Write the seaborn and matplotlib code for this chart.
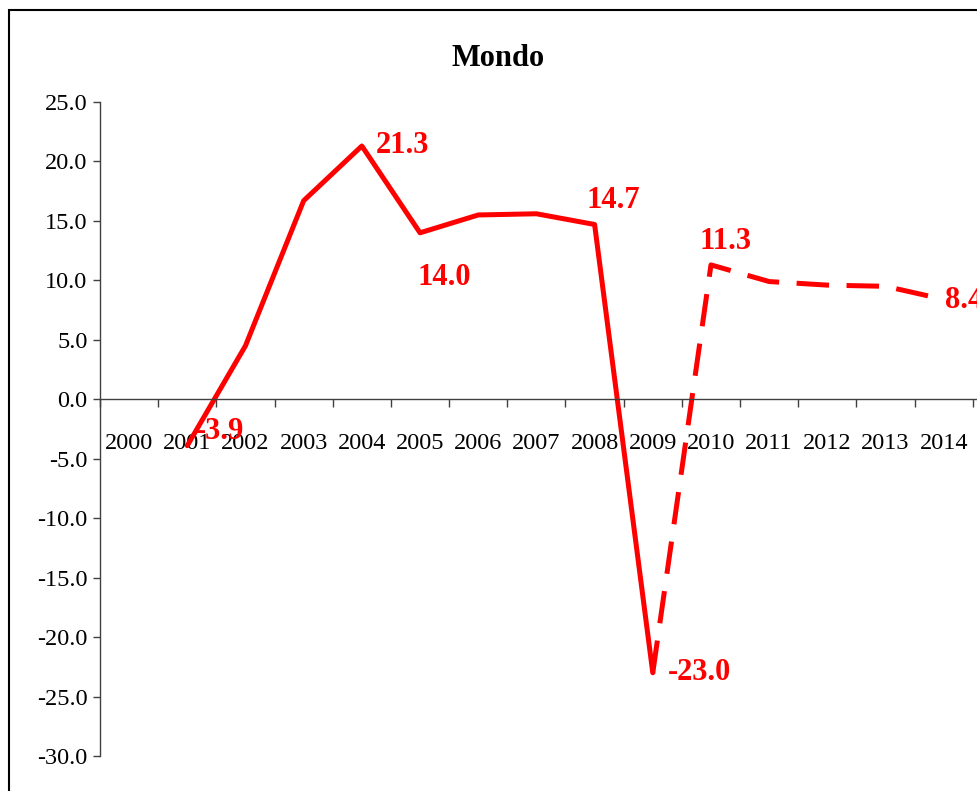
import pandas as pd
import matplotlib
matplotlib.use("Agg")
import matplotlib.pyplot as plt
import seaborn as sns
from matplotlib.patches import Rectangle

# Data
years = [str(y) for y in range(2000, 2015)]
actual_years = [2001, 2002, 2003, 2004, 2005, 2006, 2007, 2008, 2009]
actual_values = [-3.9, 4.5, 16.7, 21.3, 14.0, 15.5, 15.6, 14.7, -23.0]
forecast_years = [2009, 2010, 2011, 2012, 2013, 2014]
forecast_values = [-23.0, 11.3, 9.9, 9.6, 9.5, 8.4]

# Labelled points and where their text sits (pixel offsets)
label_years = [2001, 2004, 2005, 2008, 2009, 2010, 2014]
label_values = [-3.9, 21.3, 14.0, 14.7, -23.0, 11.3, 8.4]
label_offsets = [(9, 14, 'left'), (14, 0, 'left'), (24, -45, 'center'),
                 (19, 24, 'center'), (15, 0, 'left'), (15, 23, 'center'),
                 (1, -1, 'left')]

sns.set_style("white")
plt.rcParams['font.family'] = ['Liberation Serif', 'DejaVu Serif']
plt.rcParams['axes.unicode_minus'] = False
plt.rcParams['text.color'] = 'black'
plt.rcParams['xtick.color'] = 'black'
plt.rcParams['ytick.color'] = 'black'

actual = pd.DataFrame({'pos': [y - 2000 for y in actual_years], 'value': actual_values})
forecast = pd.DataFrame({'pos': [y - 2000 for y in forecast_years], 'value': forecast_values})

fig = plt.figure(figsize=(9.78, 7.91), dpi=100)
# axes extends past the right edge (chart is cropped in the reference)
ax = fig.add_axes([100 / 978, 1 - 756 / 791, 931 / 978, 654 / 791])

red = '#ff0000'
sns.lineplot(data=actual, x='pos', y='value', color=red, linewidth=3.6, ax=ax)
sns.lineplot(data=forecast, x='pos', y='value', color=red, linewidth=3.6, ax=ax)
ax.lines[-1].set_dashes([6.5, 3.5])

for yr, val, (dx, dy, ha) in zip(label_years, label_values, label_offsets):
    ax.annotate(f"{val:.1f}", (yr - 2000, val), xytext=(dx, dy),
                textcoords='offset pixels', ha=ha, va='center',
                color=red, fontsize=22, fontweight='bold')

ax.set_xlim(-0.5, 15.5)
ax.set_ylim(-30, 25)
ax.set_yticks([v * 5.0 for v in range(-6, 6)])
ax.set_yticklabels([f"{v * 5.0:.1f}" for v in range(-6, 6)])
ax.set_xticks(range(len(years)))
ax.set_xticklabels(years)
ax.set_xticks([i - 0.5 for i in range(17)], minor=True)

axis_col = '#404040'
for s in ['top', 'right']:
    ax.spines[s].set_visible(False)
ax.spines['bottom'].set_position(('data', 0))
ax.spines['left'].set_color(axis_col)
ax.spines['bottom'].set_color(axis_col)
ax.spines['left'].set_linewidth(1.0)
ax.spines['bottom'].set_linewidth(1.0)

ax.tick_params(axis='y', which='major', direction='out', length=5, width=1,
               color=axis_col, labelcolor='black', labelsize=17.5, pad=4, left=True)
ax.tick_params(axis='x', which='major', length=0, labelsize=17.5,
               labelcolor='black', pad=24, bottom=True)
ax.tick_params(axis='x', which='minor', direction='out', length=6, width=1,
               color=axis_col, bottom=True)
ax.set_xlabel('')
ax.set_ylabel('')
ax.grid(False)

fig.text(498 / 978, 1 - 58 / 791, 'Mondo', ha='center', va='center',
         fontsize=22, fontweight='bold', color='black')

# outer chart border (cropped on the right and bottom)
fig.patches.append(Rectangle((9 / 978, -0.1), 1.2, 1 - 10 / 791 + 0.1,
                             transform=fig.transFigure, fill=False,
                             edgecolor='black', linewidth=1.5))

fig.savefig('out.png', dpi=100)
